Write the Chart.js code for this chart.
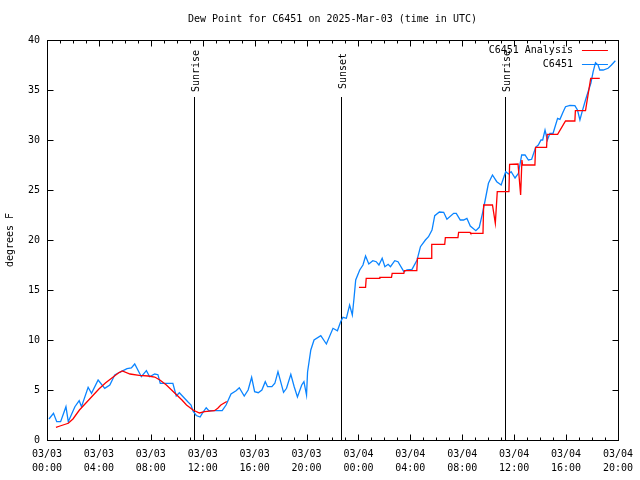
<!DOCTYPE html>
<html>
<head>
<meta charset="utf-8">
<script src="https://cdn.jsdelivr.net/npm/chart.js@4"></script>
<style>
  body { margin: 0; background: #fff; }
  canvas { display: block; }
</style>
</head>
<body>
<canvas id="dewChart" width="640" height="480"></canvas>
<script>
// hours since 03/03 00:00 UTC
var obsTimes = [0.15, 0.5, 0.75, 1.05, 1.46, 1.64, 2.15, 2.48, 2.66, 3.17, 3.43, 3.94, 4.45, 4.84, 5.22, 5.6,
    6.17, 6.5, 6.76, 7.27, 7.66, 7.91, 8.3, 8.55, 8.73, 9.32, 9.7, 9.96, 10.2, 10.85, 11.1, 11.25, 11.5, 11.8,
    12.0, 12.27, 12.47, 13.5, 13.8, 14.18, 14.57, 14.82, 15.2, 15.5, 15.77, 16.0, 16.28, 16.56, 16.82, 17.0,
    17.33, 17.56, 17.8, 18.23, 18.46, 18.79, 19.05, 19.3, 19.63, 19.8, 20.0, 20.08, 20.33, 20.58, 21.1, 21.53,
    22.04, 22.38, 22.63, 22.81, 23.07, 23.32, 23.53, 23.66, 23.79, 24.1, 24.35, 24.55, 24.8, 25.11, 25.37,
    25.58, 25.83, 26.04, 26.29, 26.47, 26.8, 27.05, 27.5, 27.75, 28.13, 28.52, 28.78, 29.16, 29.4, 29.67,
    29.88, 30.24, 30.57, 30.82, 31.34, 31.54, 31.85, 32.1, 32.36, 32.62, 33.05, 33.31, 33.56, 33.77, 34.02,
    34.33, 34.66, 35.0, 35.35, 35.56, 35.77, 36.07, 36.33, 36.58, 36.84, 37.1, 37.35, 37.66, 37.86, 38.07,
    38.2, 38.38, 38.56, 38.76, 39.0, 39.35, 39.53, 39.78, 39.96, 40.3, 40.68, 40.88, 41.07, 41.24, 41.5,
    41.7, 41.91, 42.09, 42.27, 42.47, 42.6, 42.86, 43.24, 43.5, 43.8];
var obsValues = [2.1, 2.67, 1.83, 1.83, 3.33, 1.83, 3.33, 3.93, 3.33, 5.27, 4.67, 6.0, 5.17, 5.5, 6.5, 6.77,
    7.13, 7.2, 7.6, 6.33, 6.93, 6.33, 6.6, 6.53, 5.67, 5.67, 5.67, 4.4, 4.73, 3.83, 3.5, 2.9, 2.45, 2.3,
    2.73, 3.23, 2.93, 2.93, 3.5, 4.6, 4.93, 5.23, 4.4, 5.0, 6.27, 4.83, 4.73, 5.0, 5.83, 5.33,
    5.33, 5.67, 6.83, 4.77, 5.17, 6.57, 5.33, 4.3, 5.5, 5.83, 4.5, 6.8, 9.0, 10.0, 10.43, 9.6,
    11.17, 10.93, 11.83, 12.27, 12.17, 13.5, 12.5, 14.17, 16.0, 17.0, 17.5, 18.4, 17.6, 17.93, 17.83,
    17.5, 18.17, 17.33, 17.57, 17.33, 17.93, 17.83, 16.83, 17.0, 17.07, 18.0, 19.33, 20.0, 20.33, 21.0,
    22.43, 22.8, 22.77, 22.07, 22.67, 22.67, 22.0, 22.0, 22.17, 21.4, 20.93, 21.27, 22.67, 24.0, 25.67,
    26.5, 25.83, 25.5, 26.83, 26.6, 26.83, 26.2, 26.67, 28.5, 28.5, 28.0, 28.07, 29.27, 29.5, 30.0,
    30.0, 31.0, 30.0, 30.67, 30.67, 32.17, 32.07, 32.83, 33.33, 33.47, 33.43, 33.0, 32.0, 32.83, 34.0,
    34.83, 35.67, 36.83, 37.73, 37.5, 37.0, 37.0, 37.17, 37.5, 37.93];

var anaTimes = [0.69, 1.0, 1.64, 2.0, 2.5, 3.0, 3.5, 4.0, 4.5, 5.0, 5.5, 5.8, 6.4, 7.1, 7.8, 8.3, 8.7, 9.2,
    9.6, 10.0, 10.4, 10.75, 11.25, 11.75, 12.15, 12.9, 13.16, 13.4, 13.85, 18.0,
    24.04, 24.55, 24.6, 25.6, 25.65, 26.55, 26.6, 27.5, 27.55, 28.5, 28.55, 29.6, 29.65, 30.65, 30.7, 31.67,
    31.72, 32.6, 32.65, 33.6, 33.65, 34.33, 34.55, 34.7, 35.6, 35.65, 36.3, 36.5, 36.6, 36.65, 37.6, 37.65,
    38.5, 38.55, 39.35, 39.96, 40.68, 40.72, 41.5, 41.9, 42.6];
var anaValues = [1.27, 1.4, 1.67, 2.1, 3.0, 3.7, 4.4, 5.1, 5.7, 6.2, 6.7, 6.9, 6.6, 6.47, 6.4, 6.3, 6.0, 5.5,
    5.0, 4.5, 4.0, 3.5, 3.0, 2.7, 2.83, 2.93, 3.17, 3.5, 3.85, null,
    15.27, 15.27, 16.17, 16.17, 16.27, 16.27, 16.67, 16.67, 16.93, 16.93, 18.17, 18.17, 19.57, 19.57, 20.23, 20.23,
    20.77, 20.77, 20.67, 20.67, 23.5, 23.5, 21.67, 24.83, 24.83, 27.57, 27.6, 24.5, 28.0, 27.5, 27.5, 29.27,
    29.27, 30.57, 30.57, 31.9, 31.9, 32.93, 32.93, 36.17, 36.17];

var eventTimes = [11.3, 22.67, 35.33];
var eventNames = ["Sunrise", "Sunset", "Sunrise"];

var xTicks = [0, 4, 8, 12, 16, 20, 24, 28, 32, 36, 40, 44];
var yTicks = [0, 5, 10, 15, 20, 25, 30, 35, 40];

var FONT = "'DejaVu Sans Mono', monospace";

function toPoints(times, values) {
    var pts = [];
    for (var i = 0; i < times.length; i++) {
        pts.push({ x: times[i], y: values[i] });
    }
    return pts;
}

function pad2(n) {
    return (n < 10 ? "0" : "") + n;
}

var framePlugin = {
    id: 'frame',
    beforeDatasetsDraw: function (chart) {
        var ctx = chart.ctx, a = chart.chartArea, xs = chart.scales.x;
        ctx.save();
        ctx.strokeStyle = "#000";
        ctx.lineWidth = 1;
        ctx.fillStyle = "#000";
        ctx.font = "10px " + FONT;
        for (var i = 0; i < eventTimes.length; i++) {
            var px = Math.round(xs.getPixelForValue(eventTimes[i])) + 0.5;
            ctx.beginPath();
            ctx.moveTo(px, a.top + 57);
            ctx.lineTo(px, a.bottom);
            ctx.stroke();
            ctx.save();
            ctx.translate(px + 4, a.top + 31);
            ctx.rotate(-Math.PI / 2);
            ctx.textAlign = "center";
            ctx.textBaseline = "alphabetic";
            ctx.fillText(eventNames[i], 0, 0);
            ctx.restore();
        }
        ctx.restore();
    },
    afterDraw: function (chart) {
        var ctx = chart.ctx, a = chart.chartArea, xs = chart.scales.x, ys = chart.scales.y;
        ctx.save();
        ctx.strokeStyle = "#000";
        ctx.lineWidth = 1;
        var L = Math.round(a.left) + 0.5, R = Math.round(a.right) + 0.5;
        var T = Math.round(a.top) + 0.5, B = Math.round(a.bottom) + 0.5;
        ctx.strokeRect(L, T, R - L, B - T);
        ctx.beginPath();
        // x ticks every hour, longer every 4 hours
        for (var h = 1; h < 44; h++) {
            var px = Math.round(xs.getPixelForValue(h)) + 0.5;
            var len = (h % 4 === 0) ? 6 : 3;
            ctx.moveTo(px, B); ctx.lineTo(px, B - len);
            ctx.moveTo(px, T); ctx.lineTo(px, T + len);
        }
        for (var k = 1; k < yTicks.length - 1; k++) {
            var py = Math.round(ys.getPixelForValue(yTicks[k])) + 0.5;
            ctx.moveTo(L, py); ctx.lineTo(L + 6, py);
            ctx.moveTo(R, py); ctx.lineTo(R - 6, py);
        }
        ctx.stroke();

        // title
        ctx.fillStyle = "#000";
        ctx.font = "10px " + FONT;
        ctx.textAlign = "center";
        ctx.textBaseline = "middle";
        ctx.fillText("Dew Point for C6451 on 2025-Mar-03 (time in UTC)", (a.left + a.right) / 2, 19);

        // legend
        var ds = chart.data.datasets;
        ctx.textAlign = "right";
        for (var d = 0; d < ds.length; d++) {
            var ly = a.top + 10 + d * 14;
            ctx.fillStyle = "#000";
            ctx.fillText(ds[d].label, a.right - 45, ly);
            ctx.strokeStyle = ds[d].borderColor;
            ctx.beginPath();
            ctx.moveTo(a.right - 36, Math.round(ly) + 0.5);
            ctx.lineTo(a.right - 10, Math.round(ly) + 0.5);
            ctx.stroke();
        }
        ctx.restore();
    }
};

function BuildDewChart(elementId) {
    var ctx = document.getElementById(elementId);
    var chart = new Chart(ctx, {
        type: 'line',
        data: {
            datasets: [
                {
                    label: "C6451 Analysis",
                    data: toPoints(anaTimes, anaValues),
                    borderColor: "#ff0000",
                    borderWidth: 1.3,
                    pointRadius: 0,
                    tension: 0,
                    spanGaps: false,
                    fill: false
                },
                {
                    label: "C6451",
                    data: toPoints(obsTimes, obsValues),
                    borderColor: "#0a84ff",
                    borderWidth: 1.3,
                    pointRadius: 0,
                    tension: 0,
                    fill: false
                }
            ]
        },
        options: {
            responsive: false,
            animation: false,
            devicePixelRatio: 1,
            layout: { padding: { top: 40, right: 19, left: 0, bottom: 0 } },
            plugins: {
                legend: { display: false },
                tooltip: { enabled: false },
                title: { display: false }
            },
            scales: {
                x: {
                    type: 'linear',
                    min: 0,
                    max: 44,
                    grid: { display: false, drawTicks: false },
                    border: { display: false },
                    afterBuildTicks: function (scale) {
                        scale.ticks = xTicks.map(function (v) { return { value: v }; });
                    },
                    afterFit: function (scale) { scale.height = 40; },
                    ticks: {
                        autoSkip: false,
                        maxRotation: 0,
                        padding: 7,
                        color: "#000",
                        font: { family: FONT, size: 10, lineHeight: 1.4 },
                        callback: function (v) {
                            var day = v < 24 ? "03/03" : "03/04";
                            return [day, pad2(v % 24) + ":00"];
                        }
                    }
                },
                y: {
                    min: 0,
                    max: 40,
                    grid: { display: false, drawTicks: false },
                    border: { display: false },
                    afterBuildTicks: function (scale) {
                        scale.ticks = yTicks.map(function (v) { return { value: v }; });
                    },
                    afterFit: function (scale) { scale.width = 47; },
                    title: {
                        display: true,
                        text: "degrees F",
                        color: "#000",
                        padding: { top: 4, bottom: 0 },
                        font: { family: FONT, size: 10 }
                    },
                    ticks: {
                        padding: 7,
                        color: "#000",
                        font: { family: FONT, size: 10 }
                    }
                }
            }
        },
        plugins: [framePlugin]
    });
    return chart;
}

BuildDewChart("dewChart");
</script>
</body>
</html>
